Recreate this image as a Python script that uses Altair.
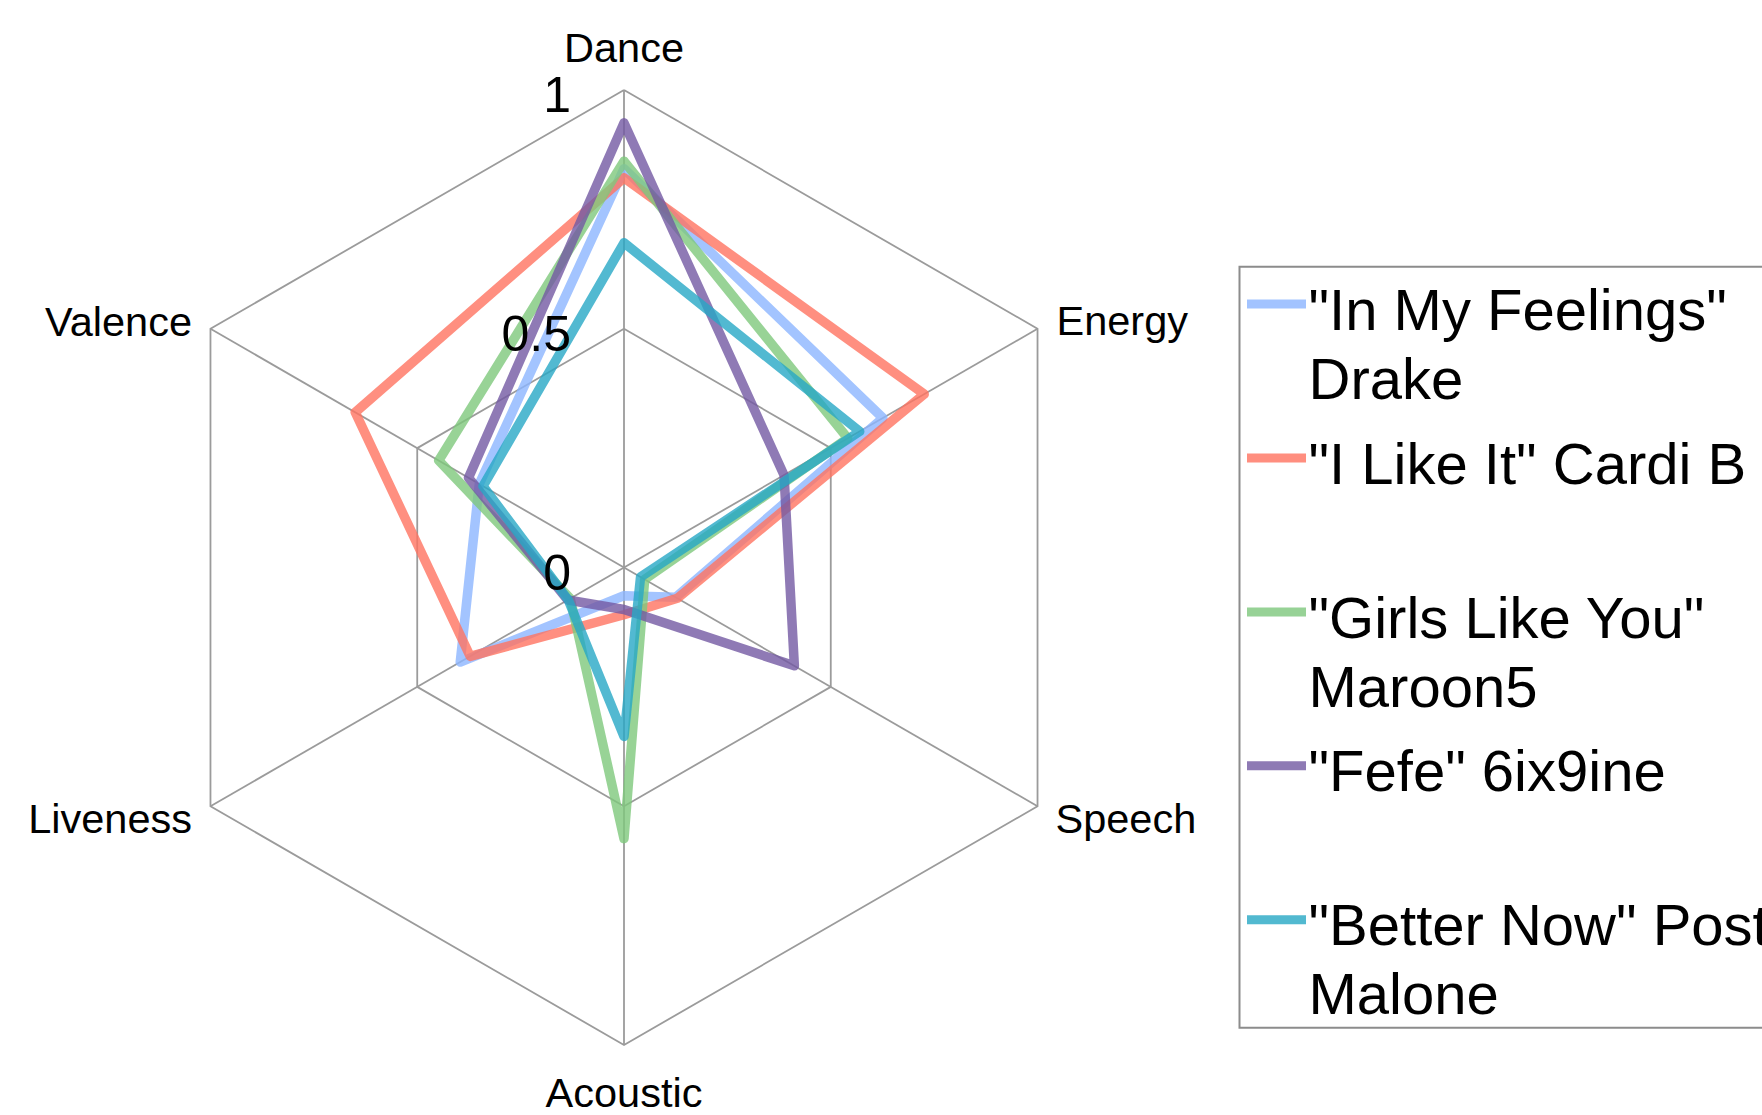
import altair as alt
import pandas as pd

# ---------------- data ----------------
AXES = ["Dance", "Energy", "Speech", "Acoustic", "Liveness", "Valence"]
SONGS = [
    '"In My Feelings"\nDrake',
    '"I Like It" Cardi B',
    '"Girls Like You"\nMaroon5',
    '"Fefe" 6ix9ine',
    '"Better Now" Post\nMalone',
]
COLORS = ["#8cb5ff", "#ff7360", "#7ec87c", "#7359a2", "#27a8c5"]

IN_MY_FEELINGS = [0.835, 0.626, 0.125, 0.059, 0.396, 0.350]
I_LIKE_IT = [0.816, 0.726, 0.129, 0.099, 0.372, 0.650]
GIRLS_LIKE_YOU = [0.851, 0.541, 0.050, 0.568, 0.130, 0.448]
FEFE = [0.931, 0.387, 0.412, 0.088, 0.136, 0.376]
BETTER_NOW = [0.680, 0.570, 0.040, 0.354, 0.135, 0.341]
SERIES = [IN_MY_FEELINGS, I_LIKE_IT, GIRLS_LIKE_YOU, FEFE, BETTER_NOW]

RING_LEVELS = [0.5, 1.0]
TICK_VALUES = [0, 0.5, 1]
TICK_LABELS = ["0", "0.5", "1"]

# ---------------- tables ----------------
N = len(AXES)
rows = []
for song, vals in zip(SONGS, SERIES):
    for i in range(N + 1):  # close the polygon
        rows.append({"song": song, "axis": AXES[i % N], "idx": i, "value": vals[i % N]})
line_df = pd.DataFrame(rows)

ring_df = pd.DataFrame([{"level": lv, "idx": i} for lv in RING_LEVELS for i in range(N + 1)])
spoke_df = pd.DataFrame({"axis": AXES, "idx": list(range(N))})
tick_df = pd.DataFrame({"value": TICK_VALUES, "label": TICK_LABELS})

# ---------------- layout / style ----------------
W, H = 1762, 1115
CX, CY, R = 624.0, 567.5, 477.5
FONT = "Liberation Sans"
GRID = "#9b9b9b"

xscale = alt.Scale(domain=[-CX / R, (W - CX) / R], nice=False, zero=False)
yscale = alt.Scale(domain=[-(H - CY) / R, CY / R], nice=False, zero=False)
ANG = f"(datum.idx * 2 * PI / {N})"


def X(f):
    return alt.X(f, type="quantitative", scale=xscale, axis=None)


def Y(f):
    return alt.Y(f, type="quantitative", scale=yscale, axis=None)


legend = alt.Legend(
    title=" ",
    titleFontSize=10,
    titlePadding=18,
    orient="none",
    legendX=1239.5,
    legendY=266.7,
    direction="vertical",
    labelFont=FONT,
    labelFontSize=58,
    labelColor="black",
    labelLimit=3000,
    labelExpr="split(datum.label, '\\n')",
    labelBaseline="alphabetic",
    labelOffset=0,
    symbolType="M-0.932,-0.868L1.068,-0.868",
    symbolSize=3481,
    symbolStrokeWidth=9,
    rowPadding=26.9,
    gridAlign="all",
    padding=1,
    strokeColor="#8c8c8c",
    fillColor="white",
)

rings = (
    alt.Chart(ring_df)
    .transform_calculate(px=f"datum.level * sin({ANG})", py=f"datum.level * cos({ANG})")
    .mark_line(stroke=GRID, strokeWidth=1.8)
    .encode(x=X("px"), y=Y("py"), detail="level:N", order="idx:Q")
)

spokes = (
    alt.Chart(spoke_df)
    .transform_calculate(x0="0", y0="0", px=f"sin({ANG})", py=f"cos({ANG})")
    .mark_rule(stroke=GRID, strokeWidth=1.8)
    .encode(x=X("x0"), y=Y("y0"), x2="px:Q", y2="py:Q")
)

lines = (
    alt.Chart(line_df)
    .transform_calculate(px=f"datum.value * sin({ANG})", py=f"datum.value * cos({ANG})")
    .mark_line(strokeWidth=9.5, opacity=0.8, strokeJoin="round", strokeCap="round")
    .encode(
        x=X("px"),
        y=Y("py"),
        color=alt.Color("song:N", scale=alt.Scale(domain=SONGS, range=COLORS), sort=SONGS, legend=legend),
        order=alt.Order("idx:Q"),
    )
)

ticks = (
    alt.Chart(tick_df)
    .transform_calculate(px="0")
    .mark_text(font=FONT, fontSize=50, align="right", baseline="alphabetic", dx=-53, dy=22, color="black")
    .encode(x=X("px"), y=Y("value"), text="label:N")
)

LABEL_STYLE = {
    "Dance": dict(align="center", dx=0, dy=-28),
    "Energy": dict(align="left", dx=19, dy=6),
    "Speech": dict(align="left", dx=18, dy=27),
    "Acoustic": dict(align="center", dx=0, dy=62),
    "Liveness": dict(align="right", dx=-18.5, dy=27),
    "Valence": dict(align="right", dx=-18.5, dy=7.5),
}

label_layers = []
for name, st in LABEL_STYLE.items():
    label_layers.append(
        alt.Chart(spoke_df)
        .transform_filter(alt.datum.axis == name)
        .transform_calculate(px=f"sin({ANG})", py=f"cos({ANG})")
        .mark_text(font=FONT, fontSize=41.5, baseline="alphabetic", color="black", **st)
        .encode(x=X("px"), y=Y("py"), text="axis:N")
    )

chart = (
    alt.layer(rings, spokes, lines, ticks, *label_layers)
    .properties(width=W, height=H, padding=0, autosize=alt.AutoSizeParams(type="none"), background="white")
    .configure(
        style={"guide-label": {"lineHeight": 69}},
        view=alt.ViewConfig(stroke="transparent"),
        legend=alt.LegendConfig(strokeWidth=2),
    )
)

chart.save("out.html", embed_options={"renderer": "svg", "actions": False})
